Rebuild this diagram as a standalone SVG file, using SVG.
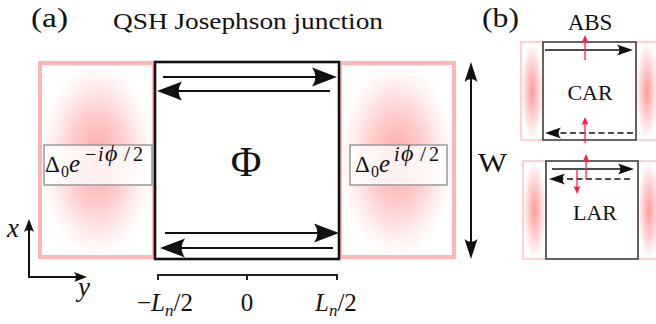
<svg xmlns="http://www.w3.org/2000/svg" width="656" height="324" viewBox="0 0 656 324">
<style>
text{font-family:"Liberation Serif","DejaVu Serif",serif;fill:#111}
.it{font-style:italic}
.pinkA{stroke:#ffb5b5;stroke-width:4}
.pinkB{stroke:#ffc4c4;stroke-width:1.5}
.jbox{fill:#fff;stroke:#111;stroke-width:2.6}
.bbox{fill:#fff;stroke:#333;stroke-width:1.5}
.lab{fill:#fff;fill-opacity:0.8;stroke:#999;stroke-width:1.5}
.big{fill:none;stroke:#111;stroke-width:2}
.sm{fill:none;stroke:#111;stroke-width:1.5}
.dash{stroke-dasharray:6 3.5}
.red{fill:none;stroke:#ff1f45;stroke-width:1.3}
</style>
<defs>
<radialGradient id="gA" cx="0.5" cy="0.5" r="0.5">
<stop offset="0" stop-color="#ffa6a6"/>
<stop offset="0.45" stop-color="#ffcaca"/>
<stop offset="0.8" stop-color="#fff0f0"/>
<stop offset="1" stop-color="#ffffff"/>
</radialGradient>
<radialGradient id="gB" cx="0.5" cy="0.5" r="0.5">
<stop offset="0" stop-color="#ff9a9a"/>
<stop offset="0.5" stop-color="#ffcccc"/>
<stop offset="1" stop-color="#ffffff"/>
</radialGradient>
<marker id="hBig" viewBox="-25 -10 25 20" refX="-12" refY="0" markerWidth="25" markerHeight="20" markerUnits="userSpaceOnUse" orient="auto-start-reverse">
<path d="M0,0 L-25,-9.5 Q-18,0 -25,9.5 Z" fill="#111"/>
</marker>
<marker id="hW" viewBox="-20 -7 20 14" refX="-10" refY="0" markerWidth="20" markerHeight="14" markerUnits="userSpaceOnUse" orient="auto-start-reverse">
<path d="M0,0 L-20,-6.5 Q-14,0 -20,6.5 Z" fill="#111"/>
</marker>
<marker id="hAx" viewBox="-13 -6 13 12" refX="-6" refY="0" markerWidth="13" markerHeight="12" markerUnits="userSpaceOnUse" orient="auto">
<path d="M0,0 L-13,-5 Q-9,0 -13,5 Z" fill="#111"/>
</marker>
<marker id="hSm" viewBox="-16 -6 16 12" refX="-8" refY="0" markerWidth="16" markerHeight="12" markerUnits="userSpaceOnUse" orient="auto">
<path d="M0,0 L-16,-5.5 Q-11,0 -16,5.5 Z" fill="#111"/>
</marker>
<marker id="hRed" viewBox="-8 -4 8 8" refX="-3" refY="0" markerWidth="8" markerHeight="8" markerUnits="userSpaceOnUse" orient="auto">
<path d="M0,0 L-8,-3.5 Q-6,0 -8,3.5 Z" fill="#ff1f45"/>
</marker>
</defs>

<!-- titles -->
<text x="31" y="27" font-size="28" textLength="37" lengthAdjust="spacingAndGlyphs">(a)</text>
<text x="113" y="29" font-size="24" textLength="270" lengthAdjust="spacingAndGlyphs">QSH Josephson junction</text>
<text x="482" y="27" font-size="28" textLength="37" lengthAdjust="spacingAndGlyphs">(b)</text>

<!-- panel (a) -->
<g id="leadL">
<rect x="40" y="63" width="114" height="194" fill="url(#gA)" class="pinkA"/>
</g>
<g id="leadR">
<rect x="340" y="63" width="114" height="194" fill="url(#gA)" class="pinkA"/>
</g>
<g id="junction">
<rect x="155" y="62" width="184" height="197" class="jbox"/>
<text x="246" y="176" font-size="42" text-anchor="middle">Φ</text>
</g>
<g id="labelL">
<rect x="44" y="145" width="108" height="40" class="lab"/>
<text font-size="23"><tspan x="45" y="172">Δ</tspan><tspan x="61" y="177" font-size="16">0</tspan><tspan x="69" y="172" class="it" font-size="25">e</tspan><tspan x="85" y="161" font-size="20">−</tspan><tspan x="98" y="161" class="it" font-size="20">i</tspan><tspan x="105" y="161" class="it" font-size="24">ϕ</tspan><tspan x="124" y="161" font-size="22">/</tspan><tspan x="133" y="161" font-size="20">2</tspan></text>
</g>
<g id="labelR">
<rect x="350" y="145" width="97" height="40" class="lab"/>
<text font-size="23"><tspan x="355" y="172">Δ</tspan><tspan x="371" y="177" font-size="16">0</tspan><tspan x="379" y="172" class="it" font-size="25">e</tspan><tspan x="394" y="161" class="it" font-size="20">i</tspan><tspan x="401" y="161" class="it" font-size="24">ϕ</tspan><tspan x="420" y="161" font-size="22">/</tspan><tspan x="429" y="161" font-size="20">2</tspan></text>
</g>
<g id="widthW">
<text x="478" y="172" font-size="27" textLength="29" lengthAdjust="spacingAndGlyphs">W</text>
</g>
<g id="axes">
<text x="7" y="237" font-size="27" class="it">x</text>
<text x="78" y="296" font-size="27" class="it">y</text>
</g>
<g id="scale">
<path d="M158,280 V275 H337 V280 M247,275 V280" fill="none" stroke="#222" stroke-width="2"/>
<text x="137" y="311" font-size="25">−<tspan class="it">L</tspan><tspan class="it" font-size="17" dy="5">n</tspan><tspan dy="-5">/2</tspan></text>
<text x="247" y="311" font-size="25" text-anchor="middle">0</text>
<text x="315" y="311" font-size="25"><tspan class="it">L</tspan><tspan class="it" font-size="17" dy="5">n</tspan><tspan dy="-5">/2</tspan></text>
</g>

<!-- panel (b) -->
<g id="leadsB">
<rect x="521" y="42" width="22" height="98" fill="url(#gB)" class="pinkB"/>
<rect x="636" y="42" width="22" height="98" fill="url(#gB)" class="pinkB"/>
<rect x="523" y="161" width="23" height="98" fill="url(#gB)" class="pinkB"/>
<rect x="638" y="161" width="22" height="98" fill="url(#gB)" class="pinkB"/>
</g>
<g id="CARbox">
<rect x="543" y="42" width="93" height="98" class="bbox"/>
<text x="590" y="100" font-size="22" text-anchor="middle">CAR</text>
</g>
<g id="LARbox">
<rect x="546" y="161" width="92" height="98" class="bbox"/>
<text x="595" y="220" font-size="22" text-anchor="middle">LAR</text>
</g>
<text x="590" y="30" font-size="23" text-anchor="middle">ABS</text>

<!-- connectors -->
<g id="connectors">
<line x1="163" y1="77" x2="325" y2="77" class="big" marker-end="url(#hBig)"/>
<line x1="330" y1="91" x2="169" y2="91" class="big" marker-end="url(#hBig)"/>
<line x1="165" y1="233" x2="327" y2="233" class="big" marker-end="url(#hBig)"/>
<line x1="333" y1="248" x2="172" y2="248" class="big" marker-end="url(#hBig)"/>
<line x1="471" y1="72" x2="471" y2="249" class="big" marker-start="url(#hW)" marker-end="url(#hW)"/>
<line x1="29" y1="278" x2="29" y2="225" class="big" marker-end="url(#hAx)"/>
<line x1="28" y1="277" x2="81" y2="277" class="big" marker-end="url(#hAx)"/>
<line x1="545" y1="50" x2="625" y2="50" class="sm" marker-end="url(#hSm)"/>
<line x1="633" y1="133" x2="553" y2="133" class="sm dash" marker-end="url(#hSm)"/>
<line x1="552" y1="169" x2="626" y2="169" class="sm" marker-end="url(#hSm)"/>
<line x1="630" y1="179" x2="557" y2="179" class="sm dash" marker-end="url(#hSm)"/>
<line x1="585" y1="60" x2="585" y2="38" class="red" marker-end="url(#hRed)"/>
<line x1="585" y1="143" x2="585" y2="120" class="red" marker-end="url(#hRed)"/>
<line x1="586" y1="179" x2="586" y2="157" class="red" marker-end="url(#hRed)"/>
<line x1="577" y1="169" x2="577" y2="191" class="red" marker-end="url(#hRed)"/>
</g>
</svg>
